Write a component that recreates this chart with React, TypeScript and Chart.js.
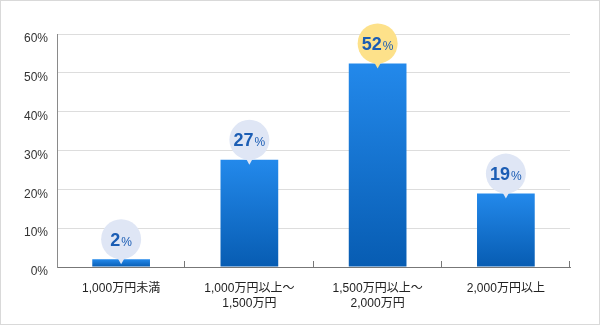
import React, { useEffect, useRef } from "react";
import { Chart, registerables } from "chart.js";

Chart.register(...registerables);

const categories: string[][] = [
  ["1,000万円未満"],
  ["1,000万円以上～", "1,500万円"],
  ["1,500万円以上～", "2,000万円"],
  ["2,000万円以上"],
];
const shares: number[] = [2.0, 27.6, 52.4, 18.9];
const shareLabels: string[] = ["2", "27", "52", "19"];
const yTicks: number[] = [0, 10, 20, 30, 40, 50, 60];

const FONT = "Arial, 'Liberation Sans', 'Noto Sans CJK JP', sans-serif";

const framePlugin = {
  id: "frame",
  beforeDraw(chart: any) {
    const { ctx, width, height } = chart;
    ctx.save();
    ctx.fillStyle = "#ffffff";
    ctx.fillRect(0, 0, width, height);
    ctx.strokeStyle = "#d9d9d9";
    ctx.lineWidth = 1;
    ctx.strokeRect(0.5, 0.5, width - 1, height - 1);
    ctx.restore();
  },
};

const catTicksPlugin = {
  id: "catTicks",
  afterDraw(chart: any) {
    const x = chart.scales.x;
    const { ctx } = chart;
    const n = categories.length;
    const half = (x.right - x.left) / n / 2;
    ctx.save();
    ctx.strokeStyle = "#777777";
    ctx.lineWidth = 1;
    for (let i = 0; i < n; i++) {
      const px = Math.round(x.getPixelForValue(i) + half) - 0.5;
      ctx.beginPath();
      ctx.moveTo(px, x.top - 6);
      ctx.lineTo(px, x.top);
      ctx.stroke();
    }
    ctx.restore();
  },
};

const bubblePlugin = {
  id: "bubbles",
  afterDatasetsDraw(chart: any) {
    const { ctx } = chart;
    const meta = chart.getDatasetMeta(0);
    const maxVal = Math.max(...shares);
    meta.data.forEach((bar: any, i: number) => {
      const cx = bar.x;
      const top = bar.y;
      const r = 20;
      const cy = top - r;
      const fill = shares[i] === maxVal ? "#fde18a" : "#dfe6f5";
      ctx.save();
      ctx.fillStyle = fill;
      ctx.beginPath();
      ctx.arc(cx, cy, r, 0, Math.PI * 2);
      ctx.fill();
      ctx.beginPath();
      ctx.moveTo(cx - 5, top - 4);
      ctx.lineTo(cx + 5, top - 4);
      ctx.lineTo(cx, top + 5);
      ctx.closePath();
      ctx.fill();
      const num = shareLabels[i];
      ctx.font = "bold 18px " + FONT;
      const wn = ctx.measureText(num).width;
      ctx.font = "12px " + FONT;
      const wp = ctx.measureText("%").width + 1;
      const start = cx - (wn + wp) / 2;
      ctx.fillStyle = "#1b5db4";
      ctx.textBaseline = "alphabetic";
      ctx.textAlign = "left";
      ctx.font = "bold 18px " + FONT;
      ctx.fillText(num, start, cy + 6.5);
      ctx.font = "12px " + FONT;
      ctx.fillText("%", start + wn + 1, cy + 6.5);
      ctx.restore();
    });
  },
};

export default function App() {
  const ref = useRef<HTMLCanvasElement | null>(null);
  useEffect(() => {
    if (!ref.current) return;
    const chart = new Chart(ref.current, {
      type: "bar",
      data: {
        labels: categories,
        datasets: [
          {
            data: shares,
            barPercentage: 0.45,
            categoryPercentage: 1,
            borderWidth: 0,
            backgroundColor: (c: any) => {
              const ch = c.chart;
              if (!ch.chartArea || c.dataIndex === undefined) return "#1f80e0";
              const y = ch.scales.y;
              const v = shares[c.dataIndex];
              const y0 = y.getPixelForValue(v);
              const y1 = y.getPixelForValue(0);
              const g = ch.ctx.createLinearGradient(0, y0, 0, y1);
              g.addColorStop(0, "#2389eb");
              g.addColorStop(1, "#075cb2");
              return g;
            },
          },
        ],
      },
      options: {
        responsive: false,
        animation: false,
        events: [],
        layout: { padding: { top: 34, right: 30, left: 0, bottom: 0 } },
        plugins: { legend: { display: false }, tooltip: { enabled: false } },
        scales: {
          x: {
            grid: { display: false, drawTicks: false },
            border: { display: true, color: "#777777", width: 1 },
            ticks: {
              padding: 14,
              color: "#222222",
              font: { family: FONT, size: 12, lineHeight: 1.25 },
              maxRotation: 0,
              autoSkip: false,
            },
            afterFit: (s: any) => {
              s.height = 58;
            },
          },
          y: {
            min: yTicks[0],
            max: yTicks[yTicks.length - 1],
            afterBuildTicks: (s: any) => {
              s.ticks = yTicks.map((v) => ({ value: v }));
            },
            grid: { color: "#dddddd", drawTicks: false },
            border: { display: true, color: "#8a8a8a", width: 1 },
            ticks: {
              padding: 9,
              labelOffset: 5,
              color: "#333333",
              font: { family: FONT, size: 12 },
              callback: (v: any) => v + "%",
            },
            afterFit: (s: any) => {
              s.width = 57;
            },
          },
        },
      },
      plugins: [framePlugin, catTicksPlugin, bubblePlugin],
    });
    return () => chart.destroy();
  }, []);
  return (
    <div style={{ position: "fixed", left: 0, top: 0, width: 600, height: 325 }}>
      <canvas ref={ref} width={600} height={325} style={{ display: "block", width: 600, height: 325 }} />
    </div>
  );
}
